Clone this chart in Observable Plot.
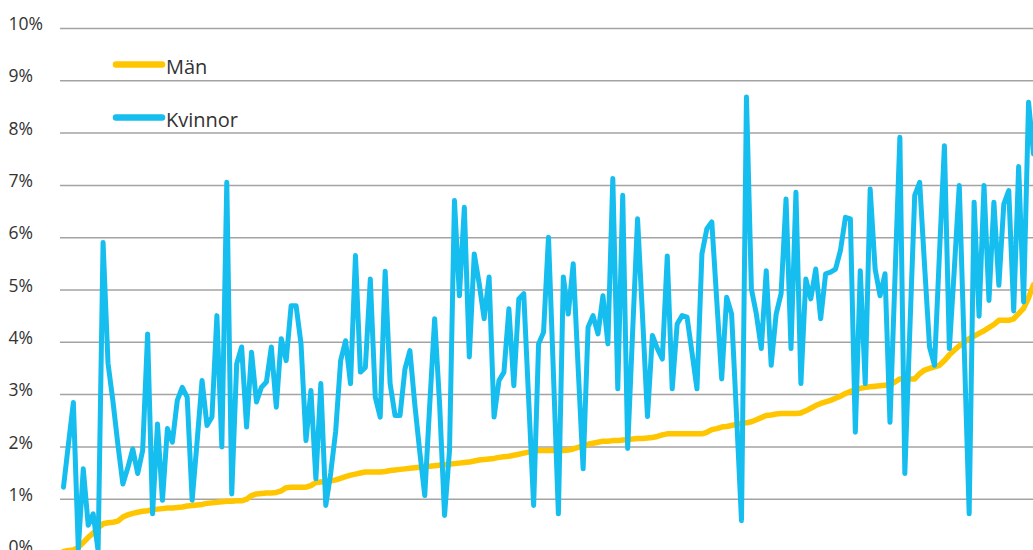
<!DOCTYPE html>
<html>
<head>
<meta charset="utf-8">
<script src="https://cdn.jsdelivr.net/npm/d3@7"></script>
<script src="https://cdn.jsdelivr.net/npm/@observablehq/plot@0.6"></script>
<style>
  html, body { margin: 0; padding: 0; background: #fff; overflow: hidden; }
  #wrap { position: relative; width: 1033px; height: 550px; }
  #legend { position: absolute; left: 0; top: 0; }
  #legend text { font-family: "Open Sans", sans-serif; font-size: 20px; fill: #333; }
</style>
</head>
<body>
<div id="wrap"></div>
<script>
// Series: share per rank (sorted by men's value), in percent
const man = [
  0.00,0.02,0.03,0.08,0.17,0.27,0.35,0.45,0.53,0.55,
  0.56,0.58,0.66,0.70,0.73,0.75,0.77,0.78,0.80,0.81,
  0.82,0.83,0.83,0.84,0.85,0.87,0.88,0.89,0.90,0.92,
  0.93,0.94,0.95,0.96,0.96,0.97,0.97,1.00,1.07,1.10,
  1.11,1.12,1.12,1.13,1.16,1.22,1.23,1.23,1.23,1.23,
  1.26,1.32,1.33,1.34,1.35,1.37,1.40,1.43,1.46,1.48,
  1.50,1.52,1.52,1.52,1.52,1.53,1.55,1.56,1.57,1.58,
  1.59,1.60,1.61,1.62,1.63,1.64,1.65,1.66,1.67,1.68,
  1.69,1.70,1.71,1.73,1.75,1.76,1.77,1.78,1.80,1.81,
  1.82,1.84,1.86,1.88,1.90,1.91,1.93,1.93,1.93,1.93,
  1.93,1.93,1.94,1.96,1.99,2.02,2.05,2.07,2.09,2.11,
  2.11,2.12,2.12,2.13,2.14,2.15,2.16,2.16,2.17,2.18,
  2.20,2.23,2.25,2.25,2.25,2.25,2.25,2.25,2.25,2.25,
  2.28,2.33,2.35,2.38,2.39,2.41,2.43,2.45,2.46,2.48,
  2.52,2.56,2.60,2.61,2.63,2.64,2.64,2.64,2.64,2.65,
  2.69,2.74,2.79,2.83,2.86,2.89,2.93,2.97,3.02,3.06,
  3.09,3.12,3.14,3.15,3.16,3.17,3.18,3.19,3.24,3.30,
  3.30,3.30,3.30,3.40,3.47,3.50,3.53,3.56,3.65,3.76,
  3.85,3.93,4.00,4.07,4.12,4.17,4.22,4.28,4.34,4.42,
  4.42,4.42,4.45,4.55,4.65,4.85,5.10
];
const kvinnor = [
  1.23,2.05,2.85,0.05,1.58,0.50,0.72,0.02,5.91,3.60,
  2.87,2.04,1.29,1.60,1.96,1.49,1.93,4.16,0.72,2.44,
  0.98,2.35,2.09,2.89,3.14,2.95,0.98,2.10,3.27,2.41,
  2.57,4.51,2.00,7.06,1.10,3.59,3.91,2.38,3.81,2.86,
  3.14,3.24,3.91,2.76,4.07,3.65,4.70,4.70,3.97,2.12,
  3.08,1.39,3.21,0.88,1.50,2.30,3.65,4.03,3.21,5.66,
  3.43,3.52,5.21,2.95,2.57,5.36,3.21,2.60,2.60,3.49,
  3.84,2.80,1.90,1.07,2.80,4.45,2.82,0.69,1.93,6.71,
  4.89,6.58,3.72,5.69,5.12,4.45,5.25,2.57,3.27,3.43,
  4.64,3.17,4.83,4.93,2.90,0.88,3.97,4.19,6.01,3.40,
  0.72,5.25,4.54,5.50,3.50,1.58,4.29,4.51,4.16,4.89,
  3.97,7.13,3.11,6.81,1.97,4.20,6.36,4.50,2.58,4.13,
  3.88,3.68,5.65,3.11,4.35,4.51,4.48,3.80,3.11,5.69,
  6.17,6.30,4.80,3.30,4.86,4.54,2.60,0.59,8.69,5.02,
  4.54,3.88,5.37,3.56,4.54,4.93,6.74,3.88,6.87,3.21,
  5.21,4.83,5.40,4.45,5.31,5.34,5.40,5.76,6.39,6.36,
  2.28,5.37,3.21,6.93,5.40,4.89,5.31,2.47,5.20,7.92,
  1.49,4.20,6.81,7.06,5.45,3.91,3.56,5.70,7.76,3.88,
  5.40,7.00,3.90,0.72,6.68,4.50,7.00,4.80,6.68,5.09,
  6.64,6.90,4.60,7.36,4.77,8.59,7.60
];
const yTicks = [0,1,2,3,4,5,6,7,8,9,10];
const seriesNames = ["Män", "Kvinnor"];
const seriesColors = ["#FFC600", "#16BDEF"];

const data = man.map((v, i) => ({rank: i, man: v, kvinnor: kvinnor[i]}));

const chart = Plot.plot({
  width: 1033,
  height: 552,
  marginLeft: 60,
  marginRight: 0,
  marginTop: 28,
  marginBottom: 1,
  style: {fontFamily: "'Open Sans', sans-serif", background: "#fff"},
  x: {domain: [-0.6, man.length - 1], axis: null},
  y: {domain: [0, 10]},
  marks: [
    Plot.gridY(yTicks, {stroke: "#a3a3a3", strokeOpacity: 1, strokeWidth: 1.5}),
    Plot.axisY(yTicks, {
      tickSize: 0, tickPadding: 52, textAnchor: "start", dy: -4,
      tickFormat: d => d + "%", fontSize: 17.5, fill: "#333", label: null
    }),
    Plot.lineY(data, {x: "rank", y: "man", stroke: seriesColors[0], strokeWidth: 5.5, strokeLinejoin: "round", strokeLinecap: "round"}),
    Plot.lineY(data, {x: "rank", y: "kvinnor", stroke: seriesColors[1], strokeWidth: 5, strokeLinejoin: "round", strokeLinecap: "round"})
  ]
});
const wrap = document.getElementById("wrap");
wrap.appendChild(chart);

// Legend overlay
const leg = d3.select(wrap).append("svg").attr("id", "legend")
  .attr("width", 300).attr("height", 150);
const g = leg.selectAll("g").data(seriesNames).join("g")
  .attr("transform", (d, i) => `translate(0, ${64.5 + i * 53})`);
g.append("line").attr("x1", 116).attr("x2", 162).attr("y1", 0).attr("y2", 0)
  .attr("stroke", (d, i) => seriesColors[i]).attr("stroke-width", 6.5).attr("stroke-linecap", "round");
g.append("text").attr("x", 166).attr("y", 9.5).text(d => d);
</script>
</body>
</html>
